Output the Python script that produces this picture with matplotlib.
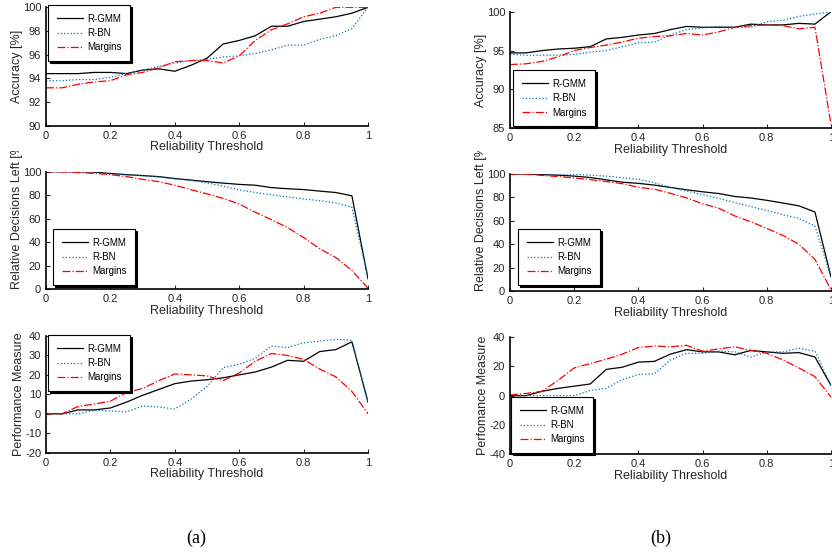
import matplotlib
matplotlib.use("Agg")
import matplotlib.pyplot as plt
from matplotlib.transforms import Bbox, TransformedBbox
import numpy as np

plt.rcParams["font.family"] = ["Liberation Sans", "DejaVu Sans"]
plt.rcParams["axes.unicode_minus"] = False

# reliability thresholds 0:0.05:1
thr = np.round(np.arange(0, 1.0001, 0.05), 2)
labels = ["R-GMM", "R-BN", "Margins"]

# (a) accuracy
acc_a_gmm = [94.4, 94.4, 94.4, 94.5, 94.5, 94.4, 94.7, 94.8, 94.6, 95.1, 95.7,
             96.9, 97.2, 97.6, 98.4, 98.4, 98.8, 99.0, 99.2, 99.5, 100]
acc_a_bn = [93.8, 93.8, 93.9, 93.9, 94.1, 94.4, 94.7, 95.0, 95.3, 95.5, 95.6,
            95.8, 95.9, 96.1, 96.4, 96.8, 96.8, 97.3, 97.6, 98.2, 100]
acc_a_mar = [93.2, 93.2, 93.5, 93.7, 93.8, 94.3, 94.5, 94.9, 95.4, 95.5, 95.5,
             95.3, 95.9, 97.2, 98.1, 98.6, 99.2, 99.5, 100, 100, 100]

# (a) relative decisions left
dec_a_gmm = [100, 100, 100, 99.6, 98.5, 97.5, 96.7, 95.8, 94.2, 92.9, 91.5,
             90.3, 89.2, 88.5, 86.5, 85.5, 84.8, 83.5, 82.3, 79.5, 9]
dec_a_bn = [100, 100, 99.5, 99, 98, 97.3, 96.6, 95.5, 93.9, 92.5, 90.5,
            87.8, 84.5, 82.3, 80.4, 78.5, 76.8, 75.3, 73.5, 69.8, 10]
dec_a_mar = [100, 99.8, 99.3, 98.6, 97.5, 95.8, 93.5, 91.5, 88.5, 84.7, 81.2,
             77.3, 72.5, 65.5, 59.2, 52.5, 44, 34.5, 27, 16, 1]

# (a) performance measure
perf_a_gmm = [0, 0, 2, 2, 3, 6, 9.5, 12.5, 15.5, 16.8, 17.5,
              18.5, 20, 21.5, 24, 27.5, 27, 32, 33, 37, 6]
perf_a_bn = [0, 0, 0, 1.8, 1.5, 1, 4, 3.5, 2.5, 7.5, 14,
             23.7, 25.5, 28.5, 34.8, 34, 36.5, 37.3, 38.3, 37.8, 6]
perf_a_mar = [0, 0, 3.8, 5, 6.5, 11, 13, 17, 20.5, 20, 19.5,
              17, 21, 27, 31, 30, 28, 23, 19, 11.5, 0]

# (b) accuracy
acc_b_gmm = [94.7, 94.7, 95.0, 95.2, 95.3, 95.5, 96.5, 96.7, 97.0, 97.2, 97.7,
             98.1, 98.0, 98.0, 98.0, 98.4, 98.3, 98.3, 98.5, 98.4, 100]
acc_b_bn = [94.5, 94.4, 94.4, 94.4, 94.5, 94.8, 95.0, 95.5, 96.0, 96.1, 97.0,
            97.7, 97.9, 98.1, 98.0, 98.0, 98.7, 98.9, 99.4, 99.7, 100]
acc_b_mar = [93.2, 93.3, 93.6, 94.2, 95.0, 95.4, 95.7, 96.1, 96.6, 96.8, 96.9,
             97.2, 97.0, 97.4, 98.0, 98.2, 98.3, 98.2, 97.8, 98.0, 85.5]

# (b) relative decisions left
dec_b_gmm = [100, 100, 99.5, 99, 98.2, 97, 95, 93, 92, 90.5, 88.5,
             86.5, 84.8, 83.3, 80.8, 79.5, 77.5, 75.2, 72.8, 67.5, 12]
dec_b_bn = [100, 100, 100, 100, 99.7, 99, 98.2, 96.8, 95.5, 92.5, 88.5,
            85.5, 82.3, 79.2, 75.6, 72.2, 68.8, 65.2, 62, 55.5, 12]
dec_b_mar = [100, 99.8, 98.8, 97.8, 96.6, 95.2, 93.6, 91.7, 88.6, 87, 83.5,
             79.6, 74.5, 70.8, 64.2, 59.2, 53.5, 47.5, 40, 27, 1]

# (b) performance measure
perf_b_gmm = [0, 0, 3, 5, 6.5, 8, 18, 19.5, 23, 23.5, 28.5,
              31.5, 30, 30, 28, 31, 30, 29, 29.5, 26.5, 7]
perf_b_bn = [0, 0, 0, 0, 0, 3.5, 5, 11, 14.5, 15, 24.5,
             29, 29, 30.5, 30, 26.5, 30, 30, 32.5, 30.5, 7]
perf_b_mar = [0.5, 1.5, 3, 10.5, 19, 22, 25, 28.5, 33, 34, 33.5,
              34.5, 30.5, 32, 33.5, 31, 29, 24.5, 19, 13, -1]

colors = ["black", "#0072BD", "#FF0000"]
styles = ["-", ":", "-."]

W, H = 832, 556
fig = plt.figure(figsize=(W / 100, H / 100), dpi=100)


def make_ax(x0, x1, ytop, ybot):
    return fig.add_axes([x0 / W, 1 - ybot / H, (x1 - x0) / W, (ybot - ytop) / H])


def panel(ax, series, ylim, yticks, ylabel, legxy, clip_top=None):
    for s, c, ls, lab in zip(series, colors, styles, labels):
        ax.plot(thr, s, color=c, linestyle=ls, linewidth=0.9, label=lab)
    ax.set_xlim(0, 1)
    ax.set_ylim(*ylim)
    ax.set_yticks(yticks)
    ax.set_xticks([0, 0.2, 0.4, 0.6, 0.8, 1])
    ax.set_xticklabels(["0", "0.2", "0.4", "0.6", "0.8", "1"])
    ax.spines["top"].set_visible(False)
    ax.spines["right"].set_visible(False)
    for sp in ["left", "bottom"]:
        ax.spines[sp].set_linewidth(1.2)
    ax.tick_params(direction="in", length=3, labelsize=8, pad=3.5,
                   colors="#262626")
    ax.set_xlabel("Reliability Threshold", fontsize=9, labelpad=0.5, color="#262626")
    if clip_top is None:
        ax.set_ylabel(ylabel, fontsize=9, labelpad=0, color="#262626")
    else:
        # long label starts at the axis bottom and is cut off at the top
        yl = ax.set_ylabel(ylabel, fontsize=9, labelpad=0, color="#262626", loc="bottom")
        box = Bbox([[0, 0], [1, 1 - clip_top / H]])
        yl.set_clip_box(TransformedBbox(box, fig.transFigure))
        yl.set_clip_on(True)
    leg = ax.legend(loc="upper left", bbox_to_anchor=(legxy[0] / W, 1 - legxy[1] / H),
                    bbox_transform=fig.transFigure, borderaxespad=0,
                    fontsize=7, frameon=True, fancybox=False, handlelength=2.7,
                    borderpad=0.9, labelspacing=0.45, handletextpad=0.4,
                    shadow={"color": "black", "alpha": 1, "ox": 1.2, "oy": -1.2})
    leg.get_frame().set_edgecolor("black")
    leg.get_frame().set_linewidth(0.8)
    leg.get_frame().set_alpha(1)


# left column (a)
ax = make_ax(46, 368, 7.3, 125.7)
panel(ax, [acc_a_gmm, acc_a_bn, acc_a_mar], (90, 100), [90, 92, 94, 96, 98, 100],
      "Accuracy [%]", (48, 5))
ax = make_ax(46, 368, 171.7, 289.3)
panel(ax, [dec_a_gmm, dec_a_bn, dec_a_mar], (0, 100), [0, 20, 40, 60, 80, 100],
      "Relative Decisions Left [%]", (53, 229), clip_top=151)
ax = make_ax(46, 368, 336, 452.7)
panel(ax, [perf_a_gmm, perf_a_bn, perf_a_mar], (-20, 40), [-20, -10, 0, 10, 20, 30, 40],
      "Performance Measure", (48, 335))

# right column (b)
ax = make_ax(510, 831, 11.7, 128.3)
panel(ax, [acc_b_gmm, acc_b_bn, acc_b_mar], (85, 100), [85, 90, 95, 100],
      "Accuracy [%]", (513, 70))
ax = make_ax(510, 831, 174, 291)
panel(ax, [dec_b_gmm, dec_b_bn, dec_b_mar], (0, 100), [0, 20, 40, 60, 80, 100],
      "Relative Decisions Left [%]", (518, 229), clip_top=151)
ax = make_ax(510, 831, 337.3, 454)
panel(ax, [perf_b_gmm, perf_b_bn, perf_b_mar], (-40, 40), [-40, -20, 0, 20, 40],
      "Perfomance Measure", (511, 397))

fig.text(196 / W, 1 - 538 / H, "(a)", fontsize=13, family="Liberation Serif",
         ha="center", va="center")
fig.text(661 / W, 1 - 538 / H, "(b)", fontsize=13, family="Liberation Serif",
         ha="center", va="center")

fig.savefig("out.png", dpi=100)
